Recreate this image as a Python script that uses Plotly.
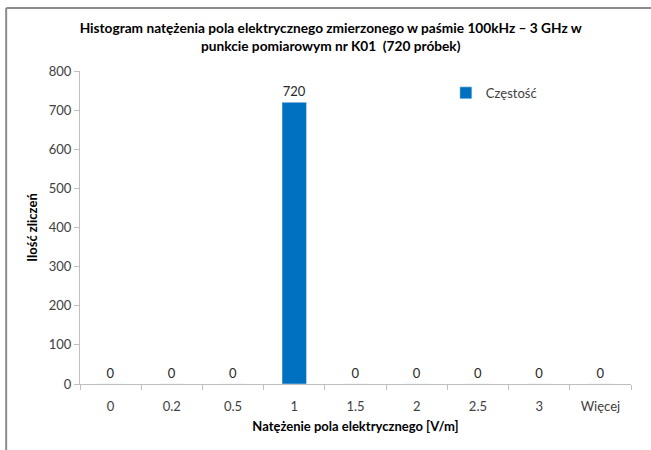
"""
Histogram natężenia pola elektrycznego - punkt K01
"""
import plotly.graph_objects as go

categories = ['0', '0.2', '0.5', '1', '1.5', '2', '2.5', '3', 'Więcej']
counts = [0, 0, 0, 720, 0, 0, 0, 0, 0]
y_ticks = [0, 100, 200, 300, 400, 500, 600, 700, 800]

FONT = 'Lato, Calibri, sans-serif'

fig = go.Figure()
fig.add_trace(go.Bar(
    x=categories,
    y=counts,
    name='Częstość',
    marker=dict(color='#0070c0'),
    text=[str(v) for v in counts],
    textposition='outside',
    textfont=dict(size=13, color='#262626'),
    cliponaxis=False,
))

fig.update_layout(
    width=651,
    height=450,
    paper_bgcolor='white',
    plot_bgcolor='white',
    font=dict(family=FONT, size=13, color='#404040'),
    title=dict(
        text='<b>Histogram natężenia pola elektrycznego zmierzonego w paśmie 100kHz – 3 GHz w<br>punkcie pomiarowym nr K01  (720 próbek)</b>',
        x=0.508, xanchor='center', xref='container',
        y=0.927, yanchor='top',
        font=dict(size=13.7, color='#000000'),
    ),
    margin=dict(l=80, r=20, t=71, b=66),
    bargap=0.6,
    showlegend=True,
    legend=dict(
        x=0.664, y=0.93, xanchor='left', yanchor='middle',
        itemwidth=30,
        font=dict(size=13, color='#404040'),
        bgcolor='rgba(0,0,0,0)',
    ),
    xaxis=dict(
        title=dict(text='<b>Natężenie pola elektrycznego [V/m]</b>',
                   font=dict(size=13, color='#000000'), standoff=9),
        showline=True, linecolor='#bfbfbf', linewidth=1,
        ticks='outside', tickson='boundaries', ticklen=5, tickcolor='#bfbfbf',
        ticklabelstandoff=10,
        showgrid=False,
    ),
    yaxis=dict(
        title=dict(text='<b>Ilość zliczeń</b>',
                   font=dict(size=13, color='#000000'), standoff=8),
        range=[0, 800],
        tickvals=y_ticks,
        showline=True, linecolor='#bfbfbf', linewidth=1,
        ticks='outside', ticklen=5, tickcolor='#bfbfbf',
        showgrid=False, zeroline=False,
    ),
)

# ramka wykresu (przycięta - widoczna tylko góra i lewa krawędź)
fig.add_shape(type='line', xref='paper', yref='paper',
              x0=-0.134, x1=1.04, y0=1.201, y1=1.201,
              line=dict(color='#8c8c8c', width=2))
fig.add_shape(type='line', xref='paper', yref='paper',
              x0=-0.134, x1=-0.134, y0=1.201, y1=-0.25,
              line=dict(color='#8c8c8c', width=2))

fig.write_html("out.html", config={'displayModeBar': False},
               post_script="document.body.style.margin='0';")
